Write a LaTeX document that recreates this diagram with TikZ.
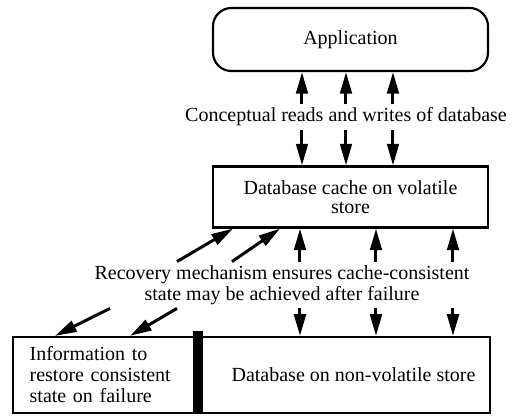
\documentclass[tikz,border=0pt]{standalone}
\usepackage{fontspec}
\setmainfont{Liberation Serif}
\usetikzlibrary{arrows.meta}

\begin{document}
\begin{tikzpicture}[x=0.6pt,y=-0.6pt,line width=1.8pt,>={Triangle[length=13pt,width=7pt]}]
    \tikzstyle{box}=[draw=black,line width=1.3pt,minimum width=165pt,inner sep=2pt,align=center,font=\fontsize{12}{11.6}\selectfont]
    \tikzstyle{rounded box}=[box,rounded corners=11pt]
    \tikzstyle{annot}=[inner xsep=1pt,inner ysep=1.5pt,align=center,font=\fontsize{12}{12.4}\selectfont]

    \useasboundingbox (0,0) rectangle (512,416);

    % Draw the boxes
    \node[rounded box,minimum height=37.8pt] (app) at (350.5,39.5) {Application};
    \node[box,minimum height=36.6pt] (cache) at (350.5,197) {Database cache on volatile\\store};
    \node[box,minimum width=110.4pt,minimum height=45.6pt,inner xsep=10pt,text width=90.4pt,align=left,font=\fontsize{12}{12.6}\selectfont] (info) at (105,375) {Information to\\restore consistent\\state on failure};
    \node[box,minimum width=175.8pt,minimum height=45.6pt] (nvdb) at (343.5,375) {\hspace*{12pt}Database on non-volatile store};
    % the thick divider between the two stores
    \draw[line width=6pt] ([yshift=3pt]info.north east) -- (info.south east);

    % Annotate the arrows
    \node[annot] (reads) at (346,117) {Conceptual reads and writes of database};
    \node[annot] (recov) at (282,285) {Recovery mechanism ensures cache-consistent\\state may be achieved after failure};

    % Reads and writes between application and cache
    \foreach \x in {302,346,393} {
        \draw[->] (reads.north -| \x,0) -- (app.south -| \x,0);
        \draw[->] (reads.south -| \x,0) -- (cache.north -| \x,0);
    }
    % Cache and non-volatile store
    \foreach \x in {300,376,453} {
        \draw[->] (recov.north -| \x,0) -- (cache.south -| \x,0);
        \draw[->] (recov.south -| \x,0) -- (nvdb.north -| \x,0);
    }
    % Recovery information
    \draw[->] (recov.north -| 177,0) -- (cache.south -| 233,0);
    \draw[->] (recov.north -| 232,0) -- (cache.south -| 280,0);
    \draw[->] (recov.south -| 110,0) -- (info.north -| 55,0);
    \draw[->] (recov.south -| 177,0) -- (info.north -| 130,0);
\end{tikzpicture}
\end{document}
